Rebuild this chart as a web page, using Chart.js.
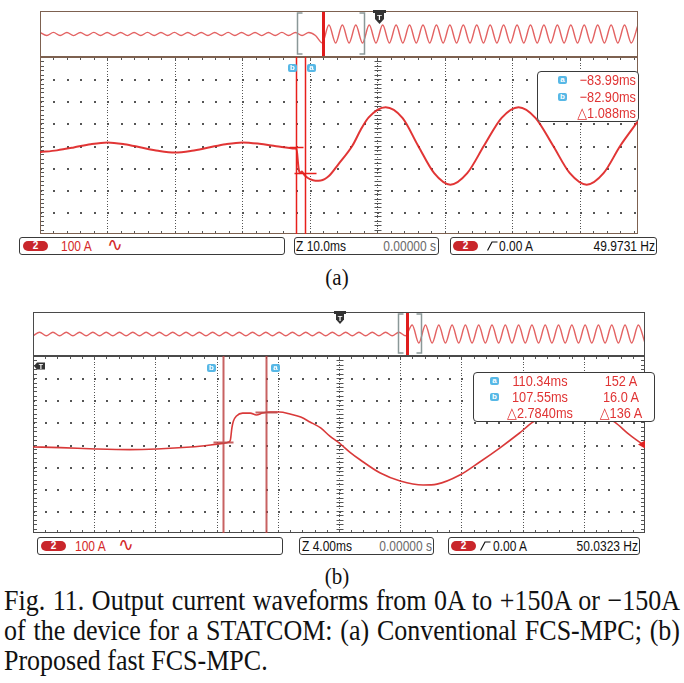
<!DOCTYPE html>
<html>
<head>
<meta charset="utf-8">
<script src="https://cdn.jsdelivr.net/npm/chart.js@4.4.1/dist/chart.umd.min.js"></script>
<style>
  body { margin: 0; width: 684px; height: 683px; position: relative; overflow: hidden; background: #fff;
         font-family: "Liberation Sans", "DejaVu Sans", sans-serif; }
  canvas { position: absolute; }
  .bar { position: absolute; height: 18px; border: 1px solid #3a3a3a; border-radius: 3px; box-sizing: border-box; background: #fff; }
  .txt { position: absolute; white-space: nowrap; font-size: 15px; line-height: 18px; color: #111;
         transform: scaleX(0.8); transform-origin: left center; }
  .wave { font-size: 19px; transform: none; }
  .red { color: #d42a2a; }
  .gray { color: #6a6a6a; }
  .txt.right, .rd.right { text-align: right; transform-origin: right center; }
  .rd.mid { text-align: center; transform-origin: center center; }
  .badge { position: absolute; width: 25px; height: 10px; border-radius: 5px; background: #c9262b; color: #fff;
           font: bold 10px/10px "Liberation Sans", sans-serif; text-align: center; }
  .chip { position: absolute; width: 9px; height: 8px; border-radius: 2px; background: #57b8e6; color: #fff;
          font: bold 8px/8px "Liberation Sans", sans-serif; text-align: center; }
  .readout { position: absolute; border: 1px solid #3a3a3a; border-radius: 4px; background: #fff; box-sizing: border-box; }
  .rd { position: absolute; white-space: nowrap; font-size: 15px; line-height: 16px; color: #e03434;
        transform: scaleX(0.85); }
  .sub { position: absolute; left: 307px; width: 60px; text-align: center; font: 21px/24px "Liberation Serif", "DejaVu Serif", serif; color: #111;
         transform: scaleY(1.1); }
  .cap { position: absolute; left: 4px; top: 586px; width: 676px; font: 26px/30px "Liberation Serif", "DejaVu Serif", serif; color: #111; }
  .cap div { text-align: justify; text-align-last: justify; transform: scaleY(1.15); transform-origin: center center; }
  .cap div.last { text-align-last: left; }
  svg { position: absolute; }
</style>
</head>
<body>

<!-- (a) -->
<canvas id="overA" width="598" height="46" style="left:40px;top:11px"></canvas>
<canvas id="mainA" width="598" height="177" style="left:40px;top:57px"></canvas>

<svg style="left:373px;top:10px" width="13" height="16">
  <rect x="0" y="0" width="13" height="3" fill="#333"/>
  <path d="M2 3 H11 V9 L6.5 14 L2 9 Z" fill="#333"/>
  <text x="6.5" y="10" font-size="8" font-weight="bold" fill="#fff" text-anchor="middle" font-family="Liberation Sans">T</text>
</svg>

<div class="chip" style="left:288px;top:64px">b</div>
<div class="chip" style="left:307px;top:64px">a</div>

<div class="readout" style="left:537px;top:71px;width:102px;height:51px"></div>
<div class="chip" style="left:558px;top:76px">a</div>
<div class="chip" style="left:558px;top:93px">b</div>
<div class="rd right" style="left:566px;top:72px;width:70px">−83.99ms</div>
<div class="rd right" style="left:566px;top:89px;width:70px">−82.90ms</div>
<div class="rd right" style="left:566px;top:105px;width:70px">△1.088ms</div>

<div class="bar" style="left:19px;top:237px;width:266px"></div>
<div class="badge" style="left:23px;top:241px">2</div>
<div class="txt red" style="left:61px;top:237px">100 A</div>
<div class="txt red wave" style="left:107px;top:236px">∿</div>
<div class="bar" style="left:294px;top:237px;width:145px"></div>
<div class="txt" style="left:296px;top:237px">Z 10.0ms</div>
<div class="txt gray right" style="left:356px;top:237px;width:80px">0.00000 s</div>
<div class="bar" style="left:450px;top:237px;width:207px"></div>
<div class="badge" style="left:453px;top:241px">2</div>
<svg style="left:487px;top:241px" width="11" height="10"><path d="M0.5 9.5 L5 1 L10.5 1" stroke="#111" stroke-width="1.2" fill="none"/></svg>
<div class="txt" style="left:499px;top:237px">0.00 A</div>
<div class="txt right" style="left:575px;top:237px;width:80px">49.9731 Hz</div>

<div class="sub" style="top:265px">(a)</div>

<!-- (b) -->
<canvas id="overB" width="612" height="44" style="left:33px;top:312px"></canvas>
<canvas id="mainB" width="612" height="177" style="left:33px;top:356px"></canvas>

<svg style="left:334px;top:311px" width="12" height="15">
  <rect x="0" y="0" width="12" height="3" fill="#333"/>
  <path d="M2 3 H10 V8.5 L6 13 L2 8.5 Z" fill="#333"/>
  <text x="6" y="9.5" font-size="7.5" font-weight="bold" fill="#fff" text-anchor="middle" font-family="Liberation Sans">T</text>
</svg>
<svg style="left:34px;top:362px" width="11" height="8">
  <path d="M0 4 L3 0.5 H11 V7.5 H3 Z" fill="#333"/>
  <text x="7" y="7" font-size="7" font-weight="bold" fill="#fff" text-anchor="middle" font-family="Liberation Sans">T</text>
</svg>

<div class="chip" style="left:207px;top:364px">b</div>
<div class="chip" style="left:271px;top:364px">a</div>

<div class="readout" style="left:473px;top:372px;width:182px;height:50px"></div>
<div class="chip" style="left:490px;top:377px">a</div>
<div class="chip" style="left:490px;top:393px">b</div>
<div class="rd mid" style="left:500px;top:373px;width:80px">110.34ms</div>
<div class="rd mid" style="left:500px;top:389px;width:80px">107.55ms</div>
<div class="rd mid" style="left:500px;top:405px;width:80px">△2.7840ms</div>
<div class="rd mid" style="left:586px;top:373px;width:70px">152 A</div>
<div class="rd mid" style="left:586px;top:389px;width:70px">16.0 A</div>
<div class="rd mid" style="left:586px;top:405px;width:70px">△136 A</div>

<div class="bar" style="left:37px;top:537px;width:246px"></div>
<div class="badge" style="left:41px;top:541px">2</div>
<div class="txt red" style="left:75px;top:537px">100 A</div>
<div class="txt red wave" style="left:118px;top:536px">∿</div>
<div class="bar" style="left:299px;top:537px;width:135px"></div>
<div class="txt" style="left:302px;top:537px">Z 4.00ms</div>
<div class="txt gray right" style="left:352px;top:537px;width:80px">0.00000 s</div>
<div class="bar" style="left:448px;top:537px;width:192px"></div>
<div class="badge" style="left:451px;top:541px">2</div>
<svg style="left:480px;top:541px" width="11" height="10"><path d="M0.5 9.5 L5 1 L10.5 1" stroke="#111" stroke-width="1.2" fill="none"/></svg>
<div class="txt" style="left:493px;top:537px">0.00 A</div>
<div class="txt right" style="left:558px;top:537px;width:80px">50.0323 Hz</div>

<div class="sub" style="top:564px">(b)</div>

<div class="cap">
  <div>Fig. 11. Output current waveforms from 0A to +150A or −150A</div>
  <div>of the device for a STATCOM: (a) Conventional FCS-MPC; (b)</div>
  <div class="last">Proposed fast FCS-MPC.</div>
</div>

<script>
// (a) conventional FCS-MPC : 10 ms/div, 100 A/div, time in ms from the trigger
const timeA = [-50, -47.5, -45, -42.5, -40, -37.5, -35, -32.5, -30, -27.5,
               -25, -22.5, -20, -17.5, -15, -12.2, -12.0, -11.7, -11.5, -11.2,
               -10.9, -10.6, -10.0, -9.2, -8.4, -7.2, -5.8, -3.7, -2.5, -1.3,
               1.2, 3.7, 6.0, 8.4, 10.8, 13.3, 15.8, 18.4, 20.9, 23.4,
               26.0, 28.5, 31.0, 33.5, 36.0, 38.6];
const currentA = [-30, -22, -9, 6, 14, 6, -9, -24, -32, -24,
                  -9, 6, 14, 8, -3, -14, -16, -100, -125, -118,
                  -130, -140, -152, -159, -158, -138, -85, 0, 70, 127,
                  173, 125, 0, -125, -177, -125, 0, 125, 173, 125,
                  0, -125, -177, -125, 0, 110];
const cursorTimeA = [-12.0, -10.8];   // b, a
const cursorLevelA = [-9, -123];

// (b) proposed fast FCS-MPC : 4 ms/div, 100 A/div
const timeB = [-20, -18.2, -15.9, -13.7, -11.9, -9.7, -8.4, -7.6, -7.2, -7.1,
               -7.0, -6.9, -6.7, -6.3, -5.8, -5.4, -5.0, -4.5, -3.9, -3.2,
               -2.5, -1.9, -1.2, -0.6, 0.1, 0.7, 1.4, 2.7, 4.0, 5.5,
               6.4, 7.9, 9.2, 10.5, 11.8, 12.7, 14.1, 15.5, 16.9, 18.0,
               19.0, 20.0];
const currentB = [-11, -14, -20, -23, -20, -11, -2, 5, 11, 20,
                  75, 106, 129, 142, 142, 133, 142, 147, 147, 138,
                  124, 102, 75, 38, 2, -34, -70, -129, -165, -183,
                  -179, -138, -79, -16, 52, 102, 140, 160, 140, 102,
                  43, -7];
const cursorTimeB = [-7.58, -4.77];   // b, a
const cursorLevelB = [11, 147];

// overview strips (whole record), one value per peak / trough, in A
const overviewA1 = [30, -30, 32, -30, 30, -31, 30, -30, 31, -30, 30, -30, 30, -32,
                    30, -30, 31, -30, 30, -30, 32, -30, 30, -31, 30, -30, 30, -30,
                    31, -30, 30, -30, 30, -32, 30, -30, 31, -30, 30, -30, 30, -30];
const overviewA2 = [-175, 175, -175, 175, -175, 175, -175, 175, -175, 175, -175, 175, -175, 175, -175, 175,
                    -175, 175, -175, 175, -175, 175, -175, 175, -175, 175, -175, 175, -175, 175, -175, 175,
                    -175, 175, -175, 175, -175, 175, -175, 175, -175, 175, -175, 175, -175, 175, -175, 175];
const overviewB1 = [-35, 35, -35, 35, -35, 35, -35, 35, -35, 35, -35, 35, -35, 35,
                    -35, 35, -35, 35, -35, 35, -35, 35, -35, 35, -35, 35, -35, 35,
                    -35, 35, -35, 35, -35, 35, -35, 35, -35, 35, -35, 35, -35, 35,
                    -35, 35, -35, 35, -35, 35, -35, 35, -35, 35, -35, 35, -35, 35,
                    -35];
const overviewB2 = [185, -185, 185, -185, 185, -185, 185, -185, 185, -185, 185, -185,
                    185, -185, 185, -185, 185, -185, 185, -185, 185, -185, 185, -185,
                    185, -185, 185, -185, 185, -185, 185, -185, 185, -185, 185, -185];

// scope graticule: dotted major lines, ticks on the frame and on the centre line
const scopeGrid = {
    id: 'scopeGrid',
    beforeDatasetsDraw(chart, args, o) {
        const {ctx, chartArea: a, scales: {x, y}} = chart;
        const px = v => Math.round(x.getPixelForValue(v));
        const py = v => Math.round(y.getPixelForValue(v));
        const xMinor = [], yMinor = [], yFine = [];
        for (let i = 0; x.min + i * o.xStep / 5 <= x.max + 1e-9; i++) xMinor.push(x.min + i * o.xStep / 5);
        for (let i = 0; y.min + i * o.yStep / 5 <= y.max + 1e-9; i++) yMinor.push(y.min + i * o.yStep / 5);
        for (let i = 0; y.min + i * o.yStep / 8 <= y.max + 1e-9; i++) yFine.push(y.min + i * o.yStep / 8);
        ctx.save();
        ctx.fillStyle = o.dot;
        xMinor.forEach((vx, i) => {
            if (i % 5 !== 0 || vx <= x.min || vx >= x.max) return;
            yFine.forEach(vy => ctx.fillRect(px(vx), py(vy), 1, 1));
        });
        yMinor.forEach((vy, j) => {
            if (j % 5 !== 0 || vy <= y.min || vy >= y.max) return;
            xMinor.forEach(vx => ctx.fillRect(px(vx), py(vy), 2, 2));
        });
        ctx.strokeStyle = o.tick;
        ctx.lineWidth = 1;
        ctx.beginPath();
        xMinor.forEach(vx => {
            const X = px(vx) + 0.5;
            ctx.moveTo(X, a.top); ctx.lineTo(X, a.top + 3);
            ctx.moveTo(X, a.bottom); ctx.lineTo(X, a.bottom - 3);
        });
        const C = px(0) + 0.5;
        yMinor.forEach(vy => {
            const Y = py(vy) + 0.5;
            ctx.moveTo(a.left, Y); ctx.lineTo(a.left + 4, Y);
            if (o.rightTicks) { ctx.moveTo(a.right, Y); ctx.lineTo(a.right - 4, Y); }
            ctx.moveTo(C - 3, Y); ctx.lineTo(C + 4, Y);
        });
        ctx.stroke();
        ctx.strokeStyle = o.border;
        ctx.strokeRect(a.left + 0.5, a.top + 0.5, a.width - 1, a.height - 1);
        ctx.restore();
    }
};

// cursor lines with their crosshairs, trigger level arrow
const scopeCursors = {
    id: 'scopeCursors',
    afterDatasetsDraw(chart, args, o) {
        const {ctx, chartArea: a, scales: {x, y}} = chart;
        ctx.save();
        ctx.strokeStyle = o.color;
        ctx.lineWidth = o.width;
        o.times.forEach((t, i) => {
            const X = Math.round(x.getPixelForValue(t)) + 0.5;
            const Y = Math.round(y.getPixelForValue(o.levels[i])) + 0.5;
            ctx.beginPath();
            ctx.moveTo(X, a.top); ctx.lineTo(X, a.bottom);
            ctx.moveTo(X - o.cross[i], Y); ctx.lineTo(X + o.cross[i], Y);
            ctx.stroke();
        });
        if (o.levelArrow !== null) {
            const Y = y.getPixelForValue(o.levelArrow);
            ctx.fillStyle = '#e02424';
            ctx.beginPath();
            ctx.moveTo(a.right, Y - 4); ctx.lineTo(a.right - 7, Y); ctx.lineTo(a.right, Y + 4);
            ctx.fill();
        }
        ctx.restore();
    }
};

// overview strip: frame, displayed-window brackets, step marker
const scopeStrip = {
    id: 'scopeStrip',
    afterDatasetsDraw(chart, args, o) {
        const {ctx, chartArea: a, scales: {x}} = chart;
        ctx.save();
        ctx.strokeStyle = '#8a9898';
        ctx.lineWidth = 1.5;
        const [b1, b2] = o.window.map(v => Math.round(x.getPixelForValue(v)) + 0.5);
        ctx.beginPath();
        ctx.moveTo(b1 + 5, a.top + 2); ctx.lineTo(b1, a.top + 2); ctx.lineTo(b1, a.bottom - 3); ctx.lineTo(b1 + 5, a.bottom - 3);
        ctx.moveTo(b2 - 5, a.top + 2); ctx.lineTo(b2, a.top + 2); ctx.lineTo(b2, a.bottom - 3); ctx.lineTo(b2 - 5, a.bottom - 3);
        ctx.stroke();
        ctx.fillStyle = '#e01c1c';
        ctx.fillRect(Math.round(x.getPixelForValue(o.marker)) - 1, a.top, 3, a.height);
        ctx.strokeStyle = o.border;
        ctx.lineWidth = 1;
        ctx.strokeRect(a.left + 0.5, a.top + 0.5, a.width - 1, a.height - 1);
        ctx.restore();
    }
};

function drawScope(id, time, current, xMin, xMax, xStep, look, cursors){ // main screen
    const ctx = document.querySelector(id);
    new Chart(ctx, {
        type: 'line',
        data: {
            datasets: [{
                data: time.map((t, i) => ({x: t, y: current[i]})),
                borderColor: look.trace,
                borderWidth: look.width,
                pointRadius: 0,
                cubicInterpolationMode: 'monotone'
            }]
        },
        options: {
            responsive: false,
            animation: false,
            events: [],
            layout: { padding: 0 },
            plugins: {
                legend: { display: false },
                tooltip: { enabled: false },
                scopeGrid: { xStep: xStep, yStep: 100, dot: '#555', tick: '#555', border: look.border, rightTicks: look.rightTicks },
                scopeCursors: cursors
            },
            scales: {
                x: { type: 'linear', min: xMin, max: xMax, display: false },
                y: { min: -400, max: 400, display: false }
            }
        },
        plugins: [scopeGrid, scopeCursors]
    });
}

function drawStrip(id, values, border, windowIdx, marker){ // overview of the record
    const ctx = document.querySelector(id);
    new Chart(ctx, {
        type: 'line',
        data: {
            labels: values.map((v, i) => i),
            datasets: [{
                data: values,
                borderColor: 'rgba(222,70,70,0.85)',
                borderWidth: 1.4,
                pointRadius: 0,
                cubicInterpolationMode: 'monotone'
            }]
        },
        options: {
            responsive: false,
            animation: false,
            events: [],
            layout: { padding: 0 },
            plugins: {
                legend: { display: false },
                tooltip: { enabled: false },
                scopeStrip: { border: border, window: windowIdx, marker: marker }
            },
            scales: {
                x: { display: false },
                y: { min: -450, max: 450, display: false }
            }
        },
        plugins: [scopeStrip]
    });
}

drawStrip('#overA', overviewA1.concat(overviewA2), '#7d6150', [38.2, 48.2], 42.1);
drawScope('#mainA', timeA, currentA, -50, 38.6, 10,
    { trace: 'rgba(222,36,36,0.92)', width: 2, border: '#7d6150', rightTicks: false },
    { times: cursorTimeA, levels: cursorLevelA, cross: [7, 11], color: '#e8201c', width: 1.5, levelArrow: null });

drawStrip('#overB', overviewB1.concat(overviewB2), '#4a4a4a', [54.8, 58.4], 56.2);
drawScope('#mainB', timeB, currentB, -20, 20, 4,
    { trace: 'rgba(214,40,40,0.92)', width: 1.6, border: '#4a4a4a', rightTicks: true },
    { times: cursorTimeB, levels: cursorLevelB, cross: [10, 11], color: 'rgba(190,70,70,0.85)', width: 2, levelArrow: 0 });
</script>
</body>
</html>
